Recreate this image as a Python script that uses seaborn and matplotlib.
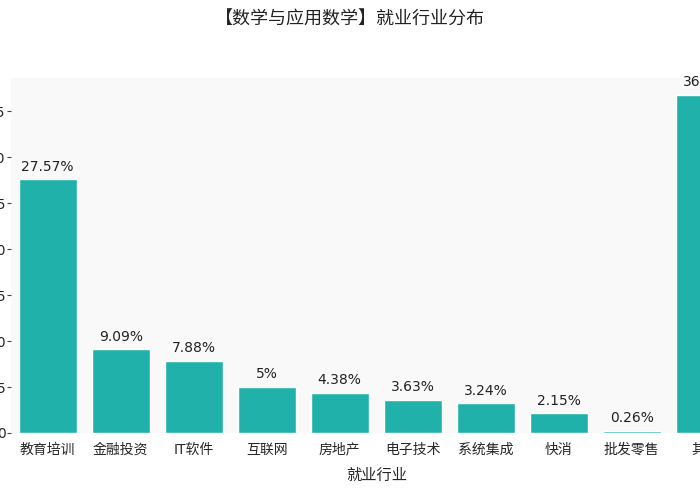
import matplotlib
matplotlib.use("Agg")
import matplotlib.pyplot as plt
import seaborn as sns
import pandas as pd

categories = ["教育培训", "金融投资", "IT软件", "互联网", "房地产", "电子技术", "系统集成", "快消", "批发零售", "其他"]
values = [27.57, 9.09, 7.88, 5, 4.38, 3.63, 3.24, 2.15, 0.26, 36.8]
labels = ["27.57%", "9.09%", "7.88%", "5%", "4.38%", "3.63%", "3.24%", "2.15%", "0.26%", "36.8%"]

sns.set_style("white")
plt.rcParams['font.family'] = ['DejaVu Sans', 'Noto Sans CJK SC']

df = pd.DataFrame({"cat": categories, "val": values})
fig = plt.figure(figsize=(7, 5), dpi=100)
ax = fig.add_axes([0.016, 0.134, 1.043, 0.71])
ax.set_facecolor("#f9f9f9")
sns.barplot(data=df, x="cat", y="val", color="#20b2aa", saturation=1, width=0.8, ax=ax)
for i, (v, l) in enumerate(zip(values, labels)):
    ax.text(i, v + 0.6, l, ha="center", va="bottom", fontsize=10, color="#222222")
ax.set_xlim(-0.5, 9.5)
ax.set_ylim(0, 38.6)
ax.set_yticks(range(0, 40, 5))
for s in ax.spines.values():
    s.set_visible(False)
ax.tick_params(axis="y", left=True, length=3, pad=1, labelsize=10, color="#444444")
ax.tick_params(axis="x", bottom=False, labelsize=10)
ax.set_xlabel("就业行业", fontsize=11, labelpad=8)
ax.set_ylabel("")
fig.text(0.5, 0.96, "【数学与应用数学】就业行业分布", ha="center", va="center", fontsize=13, color="#222222")
fig.savefig("out.png", dpi=100)
